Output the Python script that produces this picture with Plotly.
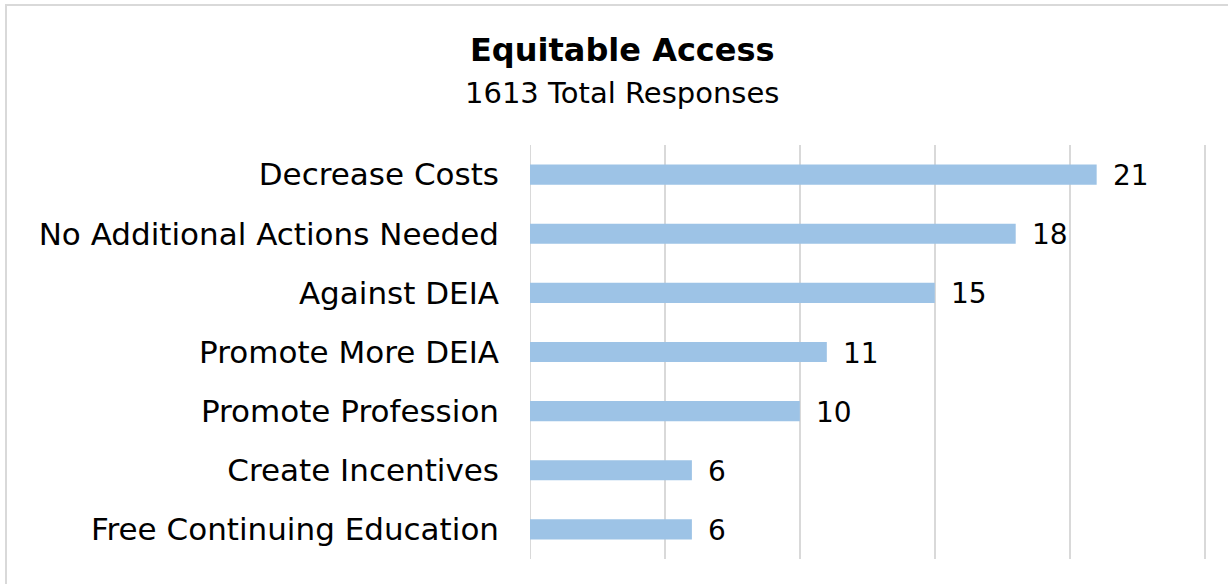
import plotly.graph_objects as go

# Survey results: suggested actions for equitable access
categories = [
    "Decrease Costs",
    "No Additional Actions Needed",
    "Against DEIA",
    "Promote More DEIA",
    "Promote Profession",
    "Create Incentives",
    "Free Continuing Education",
]
counts = [21, 18, 15, 11, 10, 6, 6]
title_text = "Equitable Access"
subtitle_text = "1613 Total Responses"

W, H = 1228, 584
PX_PER_UNIT = 27
X_MAX = 25.2
M_L, M_T, M_B = 530, 145, H - 559
M_R = W - M_L - round(X_MAX * PX_PER_UNIT)
plot_w = W - M_L - M_R
plot_h = H - M_T - M_B

FONT = "DejaVu Sans"
BAR_COLOR = "#9DC3E6"
GRID_COLOR = "#D9D9D9"

fig = go.Figure(
    go.Bar(
        x=counts,
        y=categories,
        orientation="h",
        marker=dict(color=BAR_COLOR, line=dict(width=0)),
        width=0.34,
        hoverinfo="x+y",
    )
)

# value labels just past each bar end
for cat, v in zip(categories, counts):
    fig.add_annotation(
        x=v, y=cat, xref="x", yref="y",
        text=str(v), showarrow=False,
        xanchor="left", yanchor="middle", xshift=14, yshift=-1,
        font=dict(family=FONT, size=28, color="#000000"),
    )

def px_to_paper_x(px):
    return (px - M_L) / plot_w

def px_to_paper_y(py):
    return 1 - (py - M_T) / plot_h

# title and subtitle
fig.add_annotation(
    x=px_to_paper_x(622), y=px_to_paper_y(50), xref="paper", yref="paper",
    text=f"<b>{title_text}</b>", showarrow=False,
    xanchor="center", yanchor="middle",
    font=dict(family=FONT, size=32, color="#000000"),
)
fig.add_annotation(
    x=px_to_paper_x(622), y=px_to_paper_y(93), xref="paper", yref="paper",
    text=subtitle_text, showarrow=False,
    xanchor="center", yanchor="middle",
    font=dict(family=FONT, size=29, color="#000000"),
)

# chart frame (left and top edges visible)
fig.add_shape(
    type="rect", xref="paper", yref="paper",
    x0=px_to_paper_x(6), x1=px_to_paper_x(1260),
    y0=px_to_paper_y(620), y1=px_to_paper_y(5),
    line=dict(color=GRID_COLOR, width=2), fillcolor="rgba(0,0,0,0)",
    layer="below",
)

fig.update_layout(
    width=W, height=H,
    margin=dict(l=M_L, r=M_R, t=M_T, b=M_B, pad=0),
    paper_bgcolor="white", plot_bgcolor="white",
    showlegend=False,
    font=dict(family=FONT, color="#000000"),
    bargap=0.66,
)
fig.update_xaxes(
    range=[0, X_MAX], dtick=5, tick0=0,
    showgrid=True, gridcolor=GRID_COLOR, gridwidth=2,
    showticklabels=False, zeroline=False, showline=False, ticks="",
    fixedrange=True,
)
fig.update_yaxes(
    autorange="reversed",
    showgrid=False, zeroline=False, showline=False, ticks="",
    ticklabelstandoff=30,
    tickfont=dict(family=FONT, size=31, color="#000000"),
    fixedrange=True,
)
fig.add_vline(x=0, line=dict(color=GRID_COLOR, width=2), layer="below")

fig.write_html("out.html", config={"displayModeBar": False})
